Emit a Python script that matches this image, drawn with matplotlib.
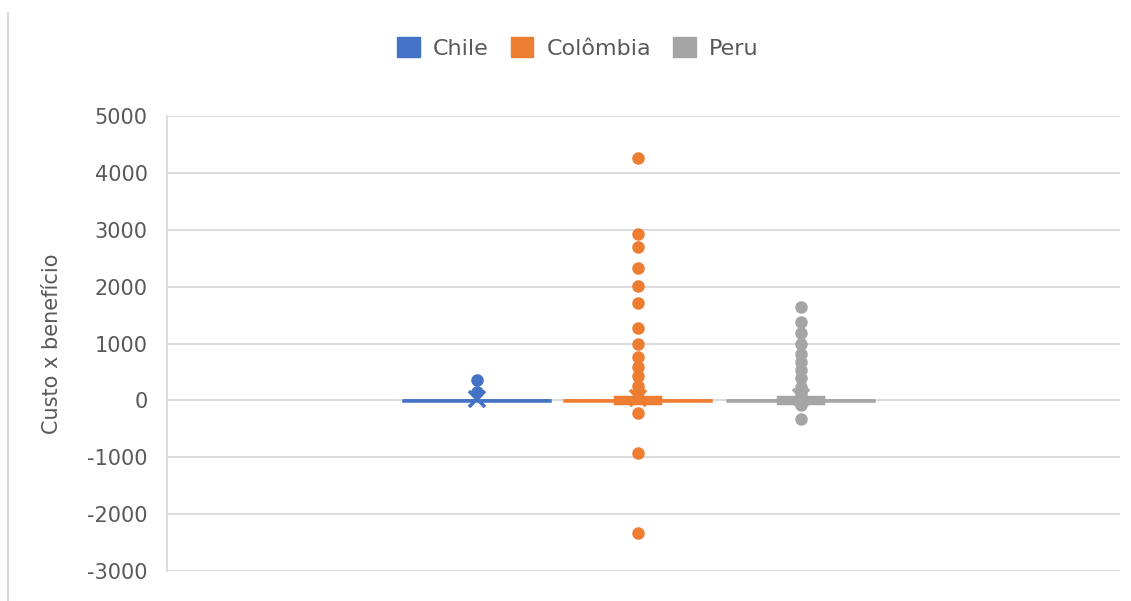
import matplotlib
matplotlib.use("Agg")
import matplotlib.pyplot as plt
from matplotlib.lines import Line2D
from matplotlib.patches import Patch

# Summary statistics per country (custo x benefício)
countries = ["Chile", "Colômbia", "Peru"]
colors = ["#4472C4", "#ED7D31", "#A5A5A5"]

q1 = [-5, -10, -10]
median = [0, 0, 0]
q3 = [5, 10, 10]
whisker_low = [-5, -40, -40]
whisker_high = [5, 50, 50]
means = [20, 50, 65]

outliers_chile = [350, 140]
outliers_colombia = [4270, 2920, 2700, 2330, 2010, 1720, 1280, 990, 770,
                     590, 420, 260, 140, -220, -930, -2330]
outliers_peru = [1650, 1380, 1180, 1000, 820, 680, 540, 400, 240, 120,
                 -80, -330]
outliers = [outliers_chile, outliers_colombia, outliers_peru]

y_ticks = [-3000, -2000, -1000, 0, 1000, 2000, 3000, 4000, 5000]

text_color = "#595959"
grid_color = "#D9D9D9"

fig = plt.figure(figsize=(11.31, 6.01), dpi=100)
ax = fig.add_axes([167 / 1131, 30 / 601, 953 / 1131, 455 / 601])

ax.set_xlim(0, 1)
ax.set_ylim(y_ticks[0], y_ticks[-1])
ax.set_yticks(y_ticks)
ax.set_yticklabels([str(v) for v in y_ticks])
ax.set_xticks([])
ax.grid(axis="y", color=grid_color, linewidth=1.3)
ax.set_axisbelow(True)
for side in ["top", "right", "bottom"]:
    ax.spines[side].set_visible(False)
ax.spines["left"].set_color(grid_color)
ax.spines["left"].set_linewidth(1.3)
ax.tick_params(axis="y", length=0, pad=14, labelsize=15, labelcolor=text_color)
ax.set_ylabel("Custo x benefício", fontsize=15, color=text_color, labelpad=18)

positions = [0.325, 0.494, 0.665]
box_width = 0.154
cap_widths = [0.0, box_width * 0.3, box_width * 0.3]

for i, name in enumerate(countries):
    stats = [{
        "q1": q1[i], "med": median[i], "q3": q3[i],
        "whislo": whisker_low[i], "whishi": whisker_high[i],
        "mean": means[i], "fliers": outliers[i], "label": name,
    }]
    c = colors[i]
    ax.bxp(
        stats, positions=[positions[i]], widths=box_width,
        capwidths=cap_widths[i], patch_artist=True, showmeans=True,
        manage_ticks=False,
        boxprops=dict(facecolor=c, edgecolor=c, linewidth=1.8),
        medianprops=dict(color=c, linewidth=1.8),
        whiskerprops=dict(color=c, linewidth=1.8),
        capprops=dict(color=c, linewidth=3.2),
        flierprops=dict(marker="o", markersize=8, markerfacecolor=c,
                        markeredgecolor=c, alpha=1),
        meanprops=dict(marker="x", markersize=12, markeredgewidth=2.6,
                       markeredgecolor=c, markerfacecolor=c),
    )

handles = [Patch(facecolor=c, edgecolor=c, label=n) for n, c in zip(countries, colors)]
leg = fig.legend(handles=handles, loc="center", bbox_to_anchor=(578 / 1131, 1 - 48 / 601),
                 ncol=3, frameon=False, fontsize=16, handlelength=1.0, handleheight=1.0,
                 handletextpad=0.6, columnspacing=1.0)
for t in leg.get_texts():
    t.set_color(text_color)

# chart border on the left edge
fig.add_artist(Line2D([8 / 1131, 8 / 1131], [0, 1 - 13 / 601], color=grid_color,
                      linewidth=1.5, transform=fig.transFigure))

fig.savefig("out.png", dpi=100)
